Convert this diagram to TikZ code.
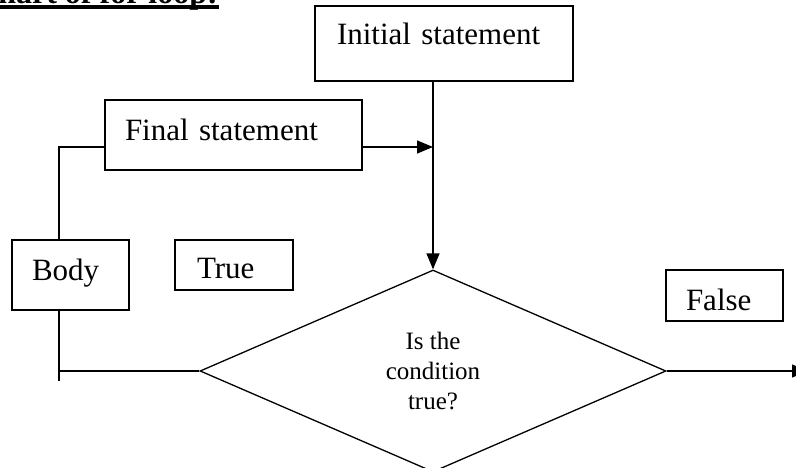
\documentclass[tikz,border=0pt]{standalone}
\usepackage{fontspec}
\setmainfont{Liberation Serif}
\usetikzlibrary{shapes.geometric,arrows.meta,calc}
\begin{document}
\begin{tikzpicture}[x=1pt,y=-1pt,
  lw/.style={line width=1.3pt},
  box/.style={draw,lw,rectangle,inner ysep=0pt,align=left,font=\fontsize{31}{37}\selectfont},
  decision/.style={draw,lw,diamond,inner sep=0pt,minimum width=466pt,minimum height=202pt,align=center,font=\fontsize{25}{30}\selectfont},
  conn/.style={lw},
  arr/.style={lw,-{Triangle[length=16pt,width=13pt]}},
]
\useasboundingbox (0,0) rectangle (796,468);
\clip (0,0) rectangle (796,468);
\node[font=\bfseries\fontsize{32}{38}\selectfont,anchor=base east,inner sep=0pt] (title) at (218,3.5) {Flowchart of for loop:};
\draw[line width=3.5pt] ($(title.base west)+(0,3.5)$) -- ($(title.base east)+(1,3.5)$);

\node[box,inner xsep=22pt,text width=214pt,text height=39pt,text depth=36pt] (init) at (444,43.5) {Initial statement};
\node[box,inner xsep=20pt,text width=217pt,text height=41pt,text depth=29pt] (final) at (233.5,135) {Final statement};
\node[box,inner xsep=20pt,text width=77pt,text height=40pt,text depth=30pt] (body) at (70.5,275) {Body};
\node[box,inner xsep=22pt,text width=74pt,text height=39pt,text depth=11pt] (true) at (234,265) {True};
\node[box,inner xsep=20pt,text width=77pt,text height=40pt,text depth=11pt] (false) at (724.5,295.5) {False};
\node[decision] (dec) at (433,371) {Is the\\condition\\true?};

\draw[arr] (dec.north |- init.south) -- (dec.north);
\coordinate (fr) at ($(final.east)+(0,12)$);
\draw[arr] (fr) -- (fr -| dec.north);
\coordinate (fl) at ($(final.west)+(0,12)$);
\coordinate (bt) at ($(body.north)+(-11.5,0)$);
\coordinate (bb) at ($(body.south)+(-11.5,0)$);
\draw[conn] (fl) -| (bt);
\coordinate (jn) at ($(bb)+(0,70)$);
\draw[conn] (bb) -- (jn);
\draw[conn] (dec.west) -- (dec.west -| bb);
\coordinate (out) at (808,371);
\draw[arr] (dec.east) -- (out);
\end{tikzpicture}
\end{document}
